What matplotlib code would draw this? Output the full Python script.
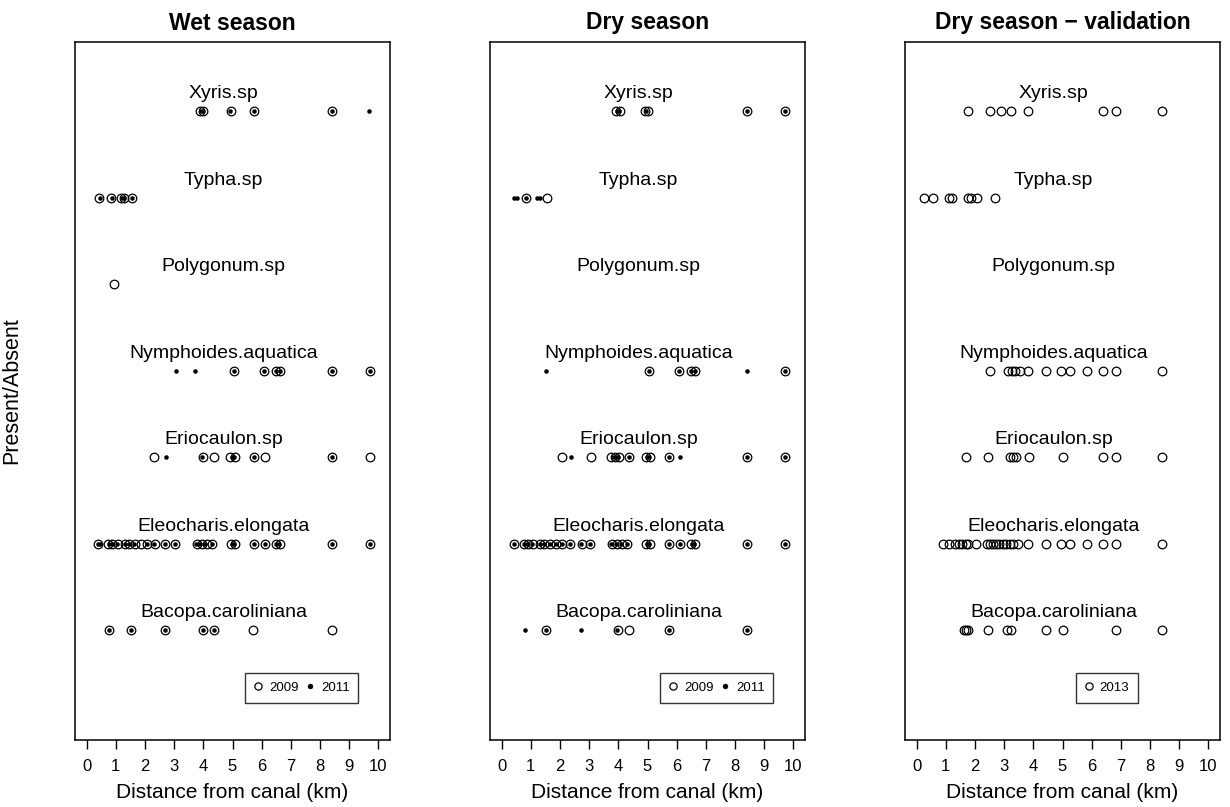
import matplotlib
matplotlib.use("Agg")
import matplotlib.pyplot as plt
from matplotlib.lines import Line2D

plt.rcParams["font.family"] = ["Liberation Sans", "DejaVu Sans"]

# Species, drawn top to bottom
species = ["Xyris.sp", "Typha.sp", "Polygonum.sp", "Nymphoides.aquatica",
           "Eriocaulon.sp", "Eleocharis.elongata", "Bacopa.caroliniana"]

# Distance from canal (km) where each species was present
wet_2009 = [
    [3.87, 3.98, 4.96, 5.73, 8.42],
    [0.43, 0.83, 1.17, 1.29, 1.57],
    [0.95],
    [5.06, 6.07, 6.49, 6.62, 8.42, 9.70],
    [2.32, 3.99, 4.37, 4.93, 5.07, 5.73, 6.10, 8.42, 9.70],
    [0.40, 0.74, 0.86, 1.09, 1.32, 1.46, 1.66, 1.86, 2.08, 2.35, 2.69, 3.03,
     3.78, 3.95, 4.12, 4.30, 4.95, 5.09, 5.73, 6.10, 6.49, 6.62, 8.42, 9.70],
    [0.78, 1.51, 2.69, 3.99, 4.35, 5.70, 8.42],
]
wet_2011 = [
    [3.92, 4.00, 4.93, 5.73, 8.42, 9.68],
    [0.45, 0.86, 1.20, 1.29, 1.57],
    [],
    [3.07, 3.73, 5.06, 6.07, 6.49, 6.62, 8.42, 9.70],
    [2.71, 3.96, 4.98, 5.05, 5.73, 8.42],
    [0.40, 0.45, 0.76, 0.88, 1.05, 1.30, 1.44, 1.62, 2.08, 2.32, 2.69, 3.03,
     3.76, 3.90, 4.05, 4.30, 4.98, 5.05, 5.73, 6.10, 6.50, 6.60, 8.42, 9.70],
    [0.78, 1.51, 2.69, 3.99, 4.35],
]
dry_2009 = [
    [3.92, 4.05, 4.92, 5.00, 8.42, 9.70],
    [0.82, 1.57],
    [],
    [5.06, 6.07, 6.49, 6.62, 9.70],
    [2.08, 3.07, 3.76, 3.89, 4.03, 4.37, 4.95, 5.09, 5.73, 8.42, 9.70],
    [0.43, 0.78, 0.89, 1.09, 1.32, 1.46, 1.66, 1.86, 2.08, 2.35, 2.75, 3.03,
     3.78, 3.95, 4.12, 4.30, 4.95, 5.09, 5.73, 6.10, 6.49, 6.62, 8.42, 9.70],
    [1.52, 3.99, 4.37, 5.73, 8.42],
]
dry_2011 = [
    [3.95, 4.02, 4.96, 8.42, 9.70],
    [0.43, 0.54, 0.82, 1.22, 1.32],
    [],
    [1.52, 5.06, 6.07, 6.49, 6.62, 8.42, 9.70],
    [2.37, 3.80, 3.92, 4.00, 4.37, 4.98, 5.05, 5.73, 6.10, 8.42, 9.70],
    [0.43, 0.76, 0.86, 1.05, 1.30, 1.44, 1.66, 1.86, 2.08, 2.35, 2.72, 3.03,
     3.76, 3.92, 4.08, 4.30, 4.98, 5.05, 5.73, 6.10, 6.52, 6.60, 8.42, 9.70],
    [0.80, 1.52, 2.73, 3.96, 5.73, 8.42],
]
val_2013 = [
    [1.75, 2.50, 2.90, 3.24, 3.81, 6.39, 6.85, 8.40],
    [0.26, 0.55, 1.12, 1.20, 1.75, 1.87, 2.06, 2.69],
    [],
    [2.50, 3.13, 3.26, 3.36, 3.55, 3.81, 4.45, 4.96, 5.25, 5.84, 6.39, 6.85, 8.40],
    [1.70, 2.44, 3.21, 3.30, 3.39, 3.85, 5.00, 6.39, 6.85, 8.40],
    [0.89, 1.12, 1.33, 1.44, 1.56, 1.70, 1.75, 2.04, 2.41, 2.50, 2.61, 2.73,
     2.84, 2.96, 3.07, 3.19, 3.32, 3.47, 3.81, 4.45, 4.96, 5.25, 5.84, 6.39,
     6.85, 8.40],
    [1.64, 1.70, 1.75, 2.44, 3.09, 3.24, 4.45, 5.00, 6.85, 8.40],
]

titles = ["Wet season", "Dry season", "Dry season \u2212 validation"]
xticks = list(range(0, 11))

panels = [
    (titles[0], [("2009", wet_2009, "open"), ("2011", wet_2011, "dot")], 0.72),
    (titles[1], [("2009", dry_2009, "open"), ("2011", dry_2011, "dot")], 0.72),
    (titles[2], [("2013", val_2013, "open")], 0.64),
]

W, H = 1230, 807
fig = plt.figure(figsize=(W / 100, H / 100), dpi=100)

lefts = [75, 490, 905]
ax_w, ax_top, ax_bot = 315, 42, 740
n = len(species)
rows = list(range(n, 0, -1))  # y position of each species row


def style(kind):
    if kind == "open":
        return dict(marker="o", markersize=6.2, markerfacecolor="none",
                    markeredgecolor="black", markeredgewidth=0.9, linestyle="none")
    return dict(marker="o", markersize=2.9, markerfacecolor="black",
                markeredgecolor="black", markeredgewidth=0.3, linestyle="none")


for left, (title, series, leg_x) in zip(lefts, panels):
    ax = fig.add_axes([left / W, (H - ax_bot) / H, ax_w / W, (ax_bot - ax_top) / H])
    for label, data, kind in series:
        for yrow, xs in zip(rows, data):
            if xs:
                ax.plot(xs, [yrow] * len(xs), **style(kind))
    for yrow, name in zip(rows, species):
        ax.text(4.7, yrow + 0.15, name, ha="center", va="baseline", fontsize=14)

    ax.set_xlim(-0.4, 10.4)
    ax.set_ylim(-0.27, 7.8)
    ax.set_xticks(xticks)
    ax.set_xticklabels([str(t) for t in xticks], fontsize=12)
    ax.set_yticks([])
    ax.tick_params(axis="x", direction="out", length=6.5, width=1, pad=7)
    for sp in ax.spines.values():
        sp.set_linewidth(1.1)
    ax.set_xlabel("Distance from canal (km)", fontsize=15, labelpad=7)
    ax.set_title(title, fontsize=16.5, fontweight="bold", pad=9)

    handles = [Line2D([], [], **dict(style(kind), markersize=(5.2 if kind == "open" else 3.6)),
                      label=label) for label, _, kind in series]
    leg = ax.legend(handles=handles, ncol=len(handles), loc="center",
                    bbox_to_anchor=(leg_x, 0.0745), fontsize=9.5, frameon=True,
                    fancybox=False, edgecolor="black", handlelength=0.7,
                    handletextpad=0.45, columnspacing=0.55, borderpad=0.65,
                    borderaxespad=0)
    leg.get_frame().set_linewidth(1.0)

fig.text(12 / W, 1 - 391 / H, "Present/Absent", rotation=90, ha="center",
         va="center", fontsize=15.5)

fig.savefig("out.png", dpi=100)
